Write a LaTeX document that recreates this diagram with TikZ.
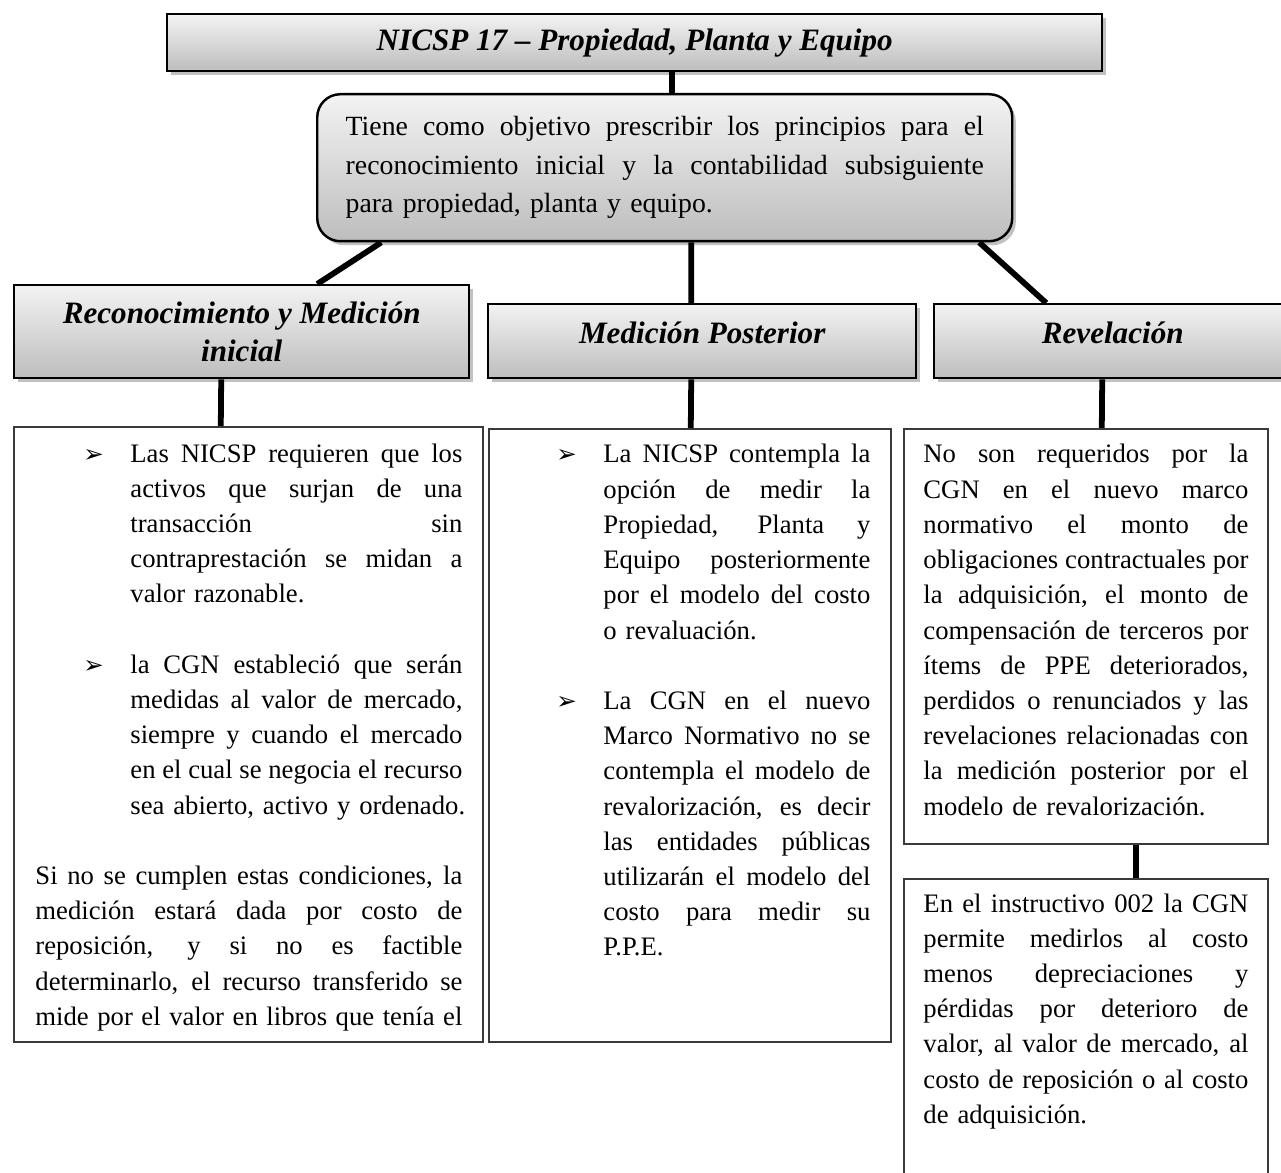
\documentclass[tikz,border=0pt]{standalone}
\usepackage{fontspec}
\setmainfont{Liberation Serif}
\newfontfamily\dingfont{DejaVu Sans}
\usetikzlibrary{shadows}
\definecolor{shadetop}{HTML}{F3F3F3}
\definecolor{shadebot}{HTML}{BDBDBD}
\definecolor{edgegrey}{HTML}{3A3A3A}
\newcommand{\pxu}{0.45pt}
% one justified line, the last line of a paragraph, a bullet, an indent, a blank line
\newcommand{\fl}[1]{\hbox to\hsize{\spaceskip=\fontdimen2\font plus 1fil\relax #1}\par}
\newcommand{\lastl}[1]{\hbox to\hsize{#1\hfil}\par}
\newcommand{\bul}{\llap{{\dingfont\fontsize{11}{11}\selectfont ➢}\hskip12pt}}
\newcommand{\indl}{\hskip42.75pt}
\newcommand{\gap}{\vskip\baselineskip}

\begin{document}
\begin{tikzpicture}[x=\pxu,y=-\pxu,
 shd/.style={top color=shadetop,bottom color=shadebot},
 ttl/.style={shd,draw=black,line width=1.1pt,anchor=north west,inner sep=0pt,font=\fontsize{14}{15}\selectfont\bfseries\itshape,drop shadow={shadow xshift=1.6pt,shadow yshift=-1.8pt,fill=black!30,opacity=0.8}},
 obj/.style={ttl,rounded corners=10.4pt,font=\fontsize{12.5}{17.3}\selectfont},
 hdr/.style={ttl,align=center},
 txtbox/.style={draw=edgegrey,line width=0.7pt,fill=white,anchor=north west,inner sep=0pt,drop shadow={shadow xshift=0.5pt,shadow yshift=-0.7pt,fill=black!40,opacity=0.6}},
 txt/.style={anchor=base west,inner sep=0pt,font=\fontsize{12}{15.84}\selectfont},
 lin/.style={line width=2.6pt,black}]
\path[fill=white,use as bounding box] (0,0) rectangle (1281,1173);
% title and objective
\node[ttl,minimum width=935*\pxu,minimum height=57*\pxu] (nicsp) at (166,13) {NICSP 17 – Propiedad, Planta y Equipo};
\node[obj,text width=638*\pxu,inner xsep=28.5*\pxu,minimum height=147*\pxu] (objv) at (316,93) {\fl{Tiene como objetivo prescribir los principios para el}\fl{reconocimiento inicial y la contabilidad subsiguiente}\lastl{para propiedad, planta y equipo.}};
% headers
\node[hdr,minimum width=455*\pxu,minimum height=93*\pxu,font=\fontsize{14}{16.8}\selectfont\bfseries\itshape] (recon) at (13,284) {Reconocimiento y Medición\\inicial};
\node[hdr,minimum width=428*\pxu,minimum height=74*\pxu,text height=10pt,text depth=8.2pt] (medpos) at (487,303) {Medición Posterior};
\node[hdr,minimum width=357*\pxu,minimum height=74*\pxu,text height=10pt,text depth=8.2pt] (revel) at (933,303) {Revelación};
% content boxes
\node[txtbox,minimum width=469*\pxu,minimum height=615*\pxu] (reconbox) at (13,426) {};
\node[txtbox,minimum width=402*\pxu,minimum height=613*\pxu] (medbox) at (488,428) {};
\node[txtbox,minimum width=364*\pxu,minimum height=415*\pxu] (revbox) at (903,428) {};
\node[txtbox,minimum width=364*\pxu,minimum height=320*\pxu] (instbox) at (903,878) {};
\node[txt,text width=427*\pxu] (recontxt) at (35,462) {%
\fl{\indl\bul Las NICSP requieren que los}
\fl{\indl activos que surjan de una}
\fl{\indl transacción sin}
\fl{\indl contraprestación se midan a}
\lastl{\indl valor razonable.}
\gap
\fl{\indl\bul la CGN estableció que serán}
\fl{\indl medidas al valor de mercado,}
\fl{\indl siempre y cuando el mercado}
\fl{\indl en el cual se negocia el recurso}
\lastl{\indl sea abierto, activo y ordenado.}
\gap
\fl{Si no se cumplen estas condiciones, la}
\fl{medición estará dada por costo de}
\fl{reposición, y si no es factible}
\fl{determinarlo, el recurso transferido se}
\fl{mide por el valor en libros que tenía el}};
\node[txt,text width=267*\pxu] (medtxt) at (603,463) {%
\fl{\bul La NICSP contempla la}
\fl{opción de medir la}
\fl{Propiedad, Planta y}
\fl{Equipo posteriormente}
\fl{por el modelo del costo}
\lastl{o revaluación.}
\gap
\fl{\bul La CGN en el nuevo}
\fl{Marco Normativo no se}
\fl{contempla el modelo de}
\fl{revalorización, es decir}
\fl{las entidades públicas}
\fl{utilizarán el modelo del}
\fl{costo para medir su}
\lastl{P.P.E.}};
\node[txt,text width=325*\pxu] (revtxt) at (923,463) {%
\fl{No son requeridos por la}
\fl{CGN en el nuevo marco}
\fl{normativo el monto de}
\fl{obligaciones contractuales por}
\fl{la adquisición, el monto de}
\fl{compensación de terceros por}
\fl{ítems de PPE deteriorados,}
\fl{perdidos o renunciados y las}
\fl{revelaciones relacionadas con}
\fl{la medición posterior por el}
\lastl{modelo de revalorización.}};
\node[txt,text width=325*\pxu] (insttxt) at (923,912) {%
\fl{En el instructivo 002 la CGN}
\fl{permite medirlos al costo}
\fl{menos depreciaciones y}
\fl{pérdidas por deterioro de}
\fl{valor, al valor de mercado, al}
\fl{costo de reposición o al costo}
\lastl{de adquisición.}};
% connectors
\foreach \s/\sx/\t/\tx in {nicsp/37.5/objv/7.5,objv/-283.5/recon/75.5,objv/26.5/medpos/-11,objv/314.5/revel/-66.5,
  recon/-20.5/reconbox/-27.5,medpos/-11/medbox/1,revel/-10.5/revbox/16,revbox/50/instbox/50}
 {\draw[lin] ([xshift=\sx*\pxu]\s.south) -- ([xshift=\tx*\pxu]\t.north);}
\end{tikzpicture}
\end{document}
